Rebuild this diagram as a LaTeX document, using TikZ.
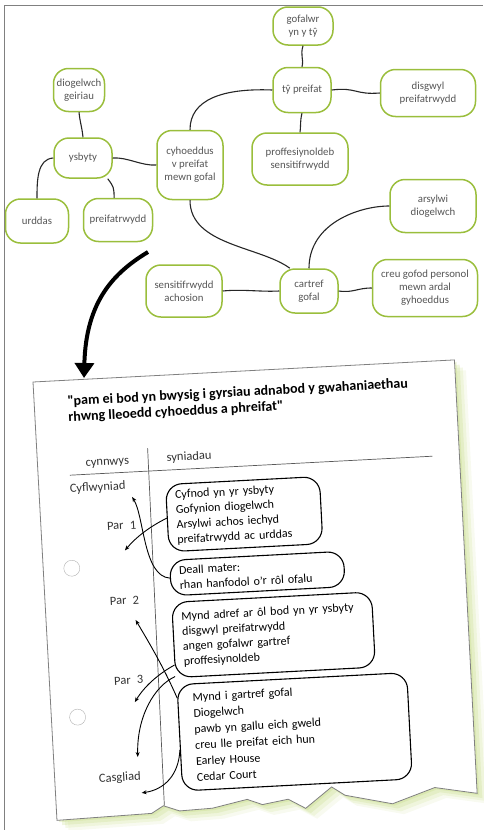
\documentclass[tikz,border=0pt]{standalone}
\usepackage{fontspec}
\setmainfont{Carlito}
\usetikzlibrary{arrows.meta}
\definecolor{mapgreen}{RGB}{154,190,60}
\definecolor{mapgray}{RGB}{85,85,85}
\definecolor{shadegreen}{RGB}{196,218,130}
% torn sheet outline, in sheet coordinates
\newcommand{\sheetedge}{(0,0) -- (422,0) -- (422,434) -- (380,426) -- (337,440) -- (290,429) -- (277,420) -- (250,440) -- (233,430) -- (207,434) -- (192,428) -- (157,435) -- (124,436) -- (108,430) -- (96,437) -- (1,439) -- cycle}
\begin{document}
\begin{tikzpicture}[x=1pt,y=-1pt,
    bubble/.style={draw=mapgreen, line width=1.5pt, rounded corners=15pt, align=center, text=mapgray, font=\fontsize{10.8}{13}\selectfont, inner sep=0pt},
    link/.style={line width=1.1pt, black!85},
    idea/.style={draw, line width=1.1pt, rounded corners=16pt, align=left, font=\fontsize{12}{15}\selectfont, inner xsep=9pt, inner ysep=6pt},
    partname/.style={font=\fontsize{12.5}{14}\selectfont, text=black!80},
    pointer/.style={line width=0.9pt, -{Stealth[length=5pt,width=4pt]}}]
  \useasboundingbox (0,0) rectangle (483,830);
  \draw[gray, line width=0.8pt] (4,830) -- (4,5) -- (483,5);

  % mind map
  \node[bubble, minimum width=60pt, minimum height=38pt] (gofalwr) at (303,26) {gofalwr\\yn y tŷ};
  \node[bubble, minimum width=58pt, minimum height=45pt] (typreifat) at (302,90) {tŷ preifat};
  \node[bubble, minimum width=95pt, minimum height=47pt] (disgwyl) at (428,93) {disgwyl\\preifatrwydd};
  \node[bubble, minimum width=51pt, minimum height=43pt] (geiriau) at (79,90) {diogelwch\\geiriau};
  \node[bubble, minimum width=58pt, minimum height=40pt] (ysbyty) at (83,158) {ysbyty};
  \node[bubble, minimum width=66pt, minimum height=69pt] (cyhoeddus) at (190,165) {cyhoeddus\\v preifat\\mewn gofal};
  \node[bubble, minimum width=96pt, minimum height=52pt] (proff) at (300,159) {proffesiynoldeb\\sensitifrwydd};
  \node[bubble, minimum width=86pt, minimum height=53pt] (arsylwi) at (433,206) {arsylwi\\diogelwch};
  \node[bubble, minimum width=63pt, minimum height=44pt] (urddas) at (37,221) {urddas};
  \node[bubble, minimum width=69pt, minimum height=43pt] (preifatrwydd) at (118,220) {preifatrwydd};
  \node[bubble, minimum width=76pt, minimum height=52pt] (sensitif) at (184,291) {sensitifrwydd\\achosion};
  \node[bubble, minimum width=58pt, minimum height=44pt] (cartref) at (309,291) {cartref\\gofal};
  \node[bubble, minimum width=105pt, minimum height=57pt] (creu) at (425,288) {creu gofod personol\\mewn ardal\\gyhoeddus};

  \draw[link] (gofalwr.south) .. controls +(-3,10) and +(2,-8) .. (typreifat.north);
  \draw[link] (typreifat.east) .. controls +(25,-3) and +(-25,2) .. (disgwyl.west);
  \draw[link] (typreifat.west) .. controls +(-50,-2) and +(0,-30) .. (cyhoeddus.north);
  \draw[link] (typreifat.south) .. controls +(-2,8) and +(1,-8) .. (proff.north);
  \draw[link] (geiriau.south) .. controls +(1,10) and +(-1,-10) .. (ysbyty.north);
  \draw[link] (ysbyty.east) .. controls +(15,-1) and +(-15,1) .. (cyhoeddus.west);
  \draw[link] (ysbyty.west) .. controls +(-16,1) and +(0,-18) .. (urddas.north);
  \draw[link] (ysbyty.-40) .. controls +(6,8) and +(0,-10) .. (preifatrwydd.100);
  \draw[link] (cyhoeddus.south) .. controls +(0,45) and +(-30,-22) .. (cartref.130);
  \draw[link] (cartref.north) .. controls +(0,-45) and +(-30,0) .. (arsylwi.west);
  \draw[link] (sensitif.east) .. controls +(20,-2) and +(-20,1) .. (cartref.west);
  \draw[link] (cartref.east) .. controls +(15,2) and +(-15,0) .. (creu.west);

  % big arrow down to the sheet
  \coordinate (arrowtail) at (148,252);
  \coordinate (arrowtip) at (84,378);
  \draw[line width=4pt, -{Triangle[length=15pt,width=19pt]}] (arrowtail) .. controls (115,272) and (86,300) .. (arrowtip);

  % sheet of paper
  \begin{scope}[shift={(33,382)}, rotate=3, every node/.style={transform shape}]
    \foreach \d/\o in {11/0.12, 8/0.18, 5/0.25, 2/0.3}
      \fill[shadegreen, opacity=\o, shift={(\d,\d)}] \sheetedge;
    \draw[gray, line width=0.8pt, fill=white] \sheetedge;
    \draw[gray!60, fill=white] (29,188) circle (8pt);
    \draw[gray!60, fill=white] (27,337) circle (8pt);

    \node[anchor=north west, align=left, font=\bfseries\fontsize{14}{16}\selectfont] (title) at (30,12)
      {\textquotedbl pam ei bod yn bwysig i gyrsiau adnabod y gwahaniaethau\\rhwng lleoedd cyhoeddus a phreifat\textquotedbl};
    \draw[gray!70!black, line width=0.7pt] (32,95) -- (395,95);
    \draw[gray!70!black, line width=0.7pt] (111,72) -- (109,430);

    \node[partname] (cynnwys) at (70,85) {cynnwys};
    \node[partname] (syniadau) at (152,83) {syniadau};
    \node[partname] (cyflwyniad) at (59,109) {Cyflwyniad};
    \node[partname] (par1) at (81,148) {Par\enspace 1};
    \node[partname] (par2) at (80,223) {Par\enspace 2};
    \node[partname] (par3) at (80,303) {Par\enspace 3};
    \node[partname] (casgliad) at (66,400) {Casgliad};

    \node[idea, text width=136pt] (ysbytyidea) at (204,143)
      {Cyfnod yn yr ysbyty\\Gofynion diogelwch\\Arsylwi achos iechyd\\preifatrwydd ac urddas};
    \node[idea, text width=156pt] (deall) at (214,203)
      {Deall mater:\\rhan hanfodol o'r rôl ofalu};
    \node[idea, text width=182pt, inner ysep=10pt] (adref) at (227,265)
      {Mynd adref ar ôl bod yn yr ysbyty\\disgwyl preifatrwydd\\angen gofalwr gartref\\proffesiynoldeb};
    \node[idea, text width=200pt, inner xsep=15pt, inner ysep=9pt, font=\fontsize{12}{16}\selectfont] (gartref) at (243,363)
      {Mynd i gartref gofal\\Diogelwch\\pawb yn gallu eich gweld\\creu lle preifat eich hun\\Earley House\\Cedar Court};

    \coordinate (tipa) at (93,120);
    \coordinate (tipb) at (83,173);
    \coordinate (tipe) at (90,243);
    \coordinate (tipc) at (85,325);
    \coordinate (tipd) at (85,380);
    \coordinate (tipf) at (87,416);
    \draw[pointer] (deall.west) .. controls (100,200) and (104,140) .. (tipa);
    \draw[pointer] (ysbytyidea.west) .. controls (110,150) and (95,160) .. (tipb);
    \draw[pointer] (gartref.161) .. controls (115,290) and (100,262) .. (tipe);
    \draw[pointer] (adref.194) .. controls (110,298) and (95,310) .. (tipc);
    \draw[pointer] (adref.200) .. controls (105,310) and (86,340) .. (tipd);
    \draw[pointer] (gartref.186) .. controls (125,400) and (110,414) .. (tipf);
  \end{scope}
\end{tikzpicture}
\end{document}
